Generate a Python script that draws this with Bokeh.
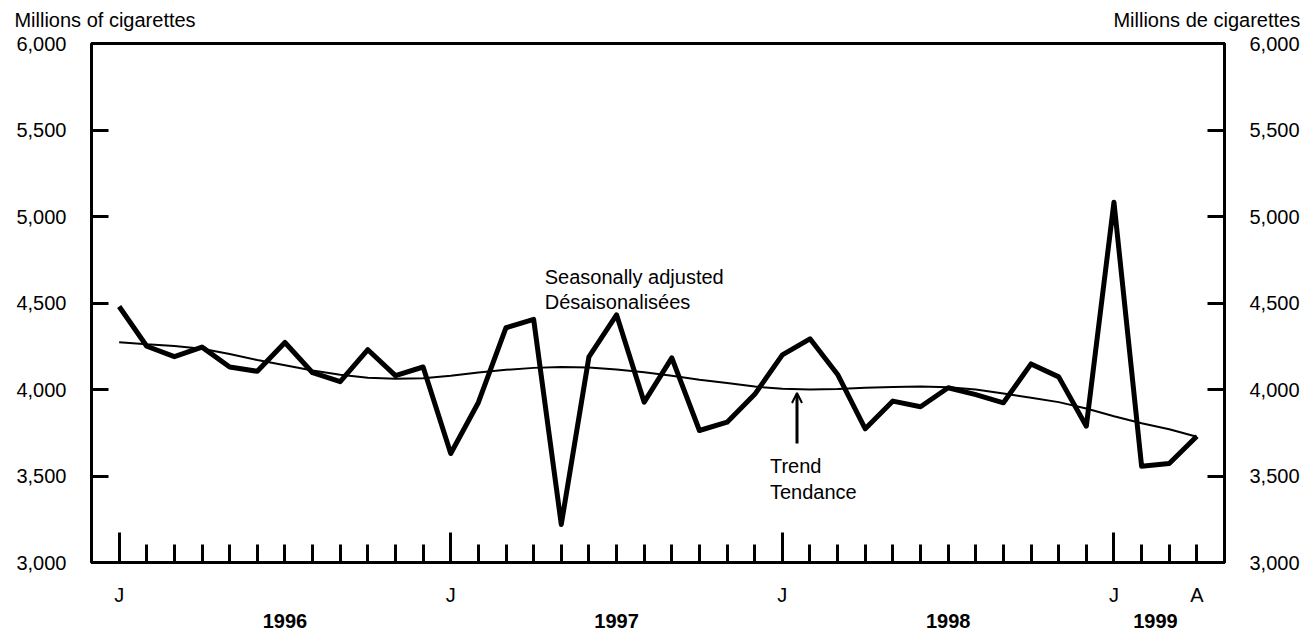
from bokeh.plotting import figure
from bokeh.models import (Range1d, LinearAxis, FixedTicker, NumeralTickFormatter,
                          Arrow, OpenHead)
from bokeh.core.properties import value
from bokeh.embed import file_html
from bokeh.resources import INLINE

# Months: index 0 = January 1996 ... index 39 = April 1999
months = list(range(40))
month_tick_labels = {0: "J", 12: "J", 24: "J", 36: "J", 39: "A"}
january_ticks = [0, 12, 24, 36]
year_positions = [6, 18, 30, 37.5]
year_labels = ["1996", "1997", "1998", "1999"]
y_ticks = [3000, 3500, 4000, 4500, 5000, 5500, 6000]
unit_titles = ["Millions of cigarettes", "Millions de cigarettes"]

seasonally_adjusted = [
    4480, 4250, 4190, 4245, 4130, 4105, 4272, 4097, 4045, 4230, 4080, 4130,
    3630, 3925, 4357, 4405, 3220, 4188, 4432, 3927, 4183, 3763, 3811, 3972,
    4200, 4293, 4087, 3773, 3933, 3900, 4010, 3970, 3923, 4148, 4073, 3788,
    5083, 3557, 3572, 3730,
]
trend = [
    4273, 4262, 4252, 4235, 4205, 4170, 4140, 4110, 4085, 4068, 4062, 4065,
    4080, 4098, 4114, 4125, 4130, 4127, 4115, 4100, 4080, 4057, 4037, 4017,
    4004, 4000, 4003, 4010, 4014, 4017, 4013, 4000, 3977, 3952, 3927, 3890,
    3845, 3805, 3770, 3727,
]

FONT = "Liberation Sans"
FS = "20px"

p = figure(width=1314, height=631, x_range=Range1d(-1, 40), y_range=Range1d(3000, 6000),
           output_backend="svg", toolbar_location=None,
           x_axis_type=None, y_axis_type=None,
           min_border_left=91, min_border_right=90, min_border_top=43, min_border_bottom=69)
p.outline_line_color = "black"
p.outline_line_width = 3
p.background_fill_color = "white"
p.border_fill_color = "white"


def style_y(ax):
    ax.ticker = FixedTicker(ticks=y_ticks)
    ax.formatter = NumeralTickFormatter(format="0,0")
    ax.major_tick_in = 17
    ax.major_tick_out = 0
    ax.major_tick_line_width = 3
    ax.major_tick_line_color = "black"
    ax.minor_tick_line_color = None
    ax.axis_line_color = None
    ax.major_label_standoff = 25
    ax.major_label_text_font = FONT
    ax.major_label_text_font_size = FS
    ax.major_label_text_color = "black"


left = LinearAxis()
style_y(left)
p.add_layout(left, "left")
right = LinearAxis()
style_y(right)
p.add_layout(right, "right")

# top: unit titles, placed as tick labels of an axis without ticks
title_positions = [-0.51, 39.36]
top = LinearAxis(ticker=FixedTicker(ticks=title_positions))
top.major_tick_in = 0
top.major_tick_out = 0
top.major_tick_line_color = None
top.minor_tick_line_color = None
top.axis_line_color = None
top.major_label_overrides = dict(zip(title_positions, unit_titles))
top.major_label_standoff = 13
top.major_label_text_font = FONT
top.major_label_text_font_size = FS
top.major_label_text_color = "black"
p.add_layout(top, "above")

# bottom: month ticks (tall for January) with J / A labels
ax1 = LinearAxis(ticker=FixedTicker(ticks=months, minor_ticks=january_ticks))
ax1.major_tick_in = 18
ax1.major_tick_out = 0
ax1.minor_tick_in = 30
ax1.minor_tick_out = 0
ax1.major_tick_line_width = 3
ax1.minor_tick_line_width = 3
ax1.major_tick_line_color = "black"
ax1.minor_tick_line_color = "black"
ax1.axis_line_color = None
ax1.major_label_overrides = {m: month_tick_labels.get(m, "") for m in months}
ax1.major_label_standoff = 21
ax1.major_label_text_font = FONT
ax1.major_label_text_font_size = FS
ax1.major_label_text_color = "black"
p.add_layout(ax1, "below")

ax2 = LinearAxis(ticker=FixedTicker(ticks=year_positions))
ax2.major_tick_in = 0
ax2.major_tick_out = 0
ax2.major_tick_line_color = None
ax2.minor_tick_line_color = None
ax2.axis_line_color = None
ax2.major_label_overrides = dict(zip(year_positions, year_labels))
ax2.major_label_standoff = 5
ax2.major_label_text_font = FONT
ax2.major_label_text_font_size = FS
ax2.major_label_text_font_style = "bold"
ax2.major_label_text_color = "black"
p.add_layout(ax2, "below")

p.line(months, trend, line_width=2, line_color="black")
p.line(months, seasonally_adjusted, line_width=5, line_color="black", line_join="round")

txt = dict(text_font=value(FONT), text_font_size=FS, text_color="black",
           text_baseline="alphabetic", text_align="left")
p.text(x=[15.4], y=[4653], text=["Seasonally adjusted"], **txt)
p.text(x=[15.4], y=[4503], text=["Désaisonalisées"], **txt)
p.text(x=[23.55], y=[3555], text=["Trend"], **txt)
p.text(x=[23.55], y=[3405], text=["Tendance"], **txt)

p.add_layout(Arrow(end=OpenHead(size=10, line_width=2, line_color="black"),
                   x_start=24.53, y_start=3688, x_end=24.53, y_end=3980,
                   line_width=3, line_color="black"))

open("out.html", "w").write(file_html(p, INLINE))
